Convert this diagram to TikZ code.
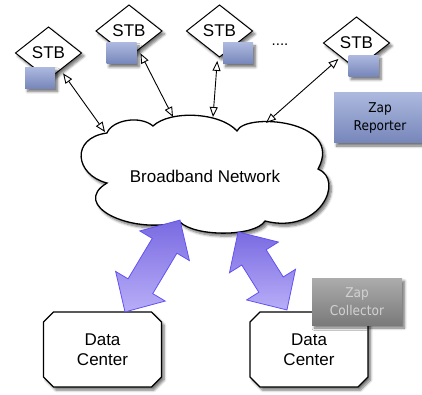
\documentclass[tikz,border=0pt]{standalone}
\usepackage{fontspec}
\setmainfont{Liberation Sans}
\newfontfamily\zapfont[FakeStretch=0.9]{DejaVu Sans}
\usetikzlibrary{shapes.geometric,shapes.arrows,shapes.misc,arrows.meta,shadows.blur,calc}

\definecolor{chipTop}{RGB}{172,184,222}
\definecolor{chipBot}{RGB}{118,134,186}
\definecolor{pipeEdge}{RGB}{98,82,242}
\definecolor{pipeDark}{RGB}{122,106,226}
\definecolor{pipeLight}{RGB}{184,174,247}
\definecolor{grayTop}{RGB}{172,172,172}
\definecolor{grayBot}{RGB}{122,122,122}
\definecolor{grayText}{RGB}{210,210,210}

\tikzset{
  softshadow/.style={blur shadow={shadow xshift=2.5pt, shadow yshift=-3pt,
      shadow blur steps=6, shadow blur radius=2.5pt, shadow opacity=55}},
  stbshape/.style={draw, line width=1pt, fill=white, softshadow},
  stblabel/.style={inner sep=0pt, font=\fontsize{17}{20}\selectfont},
  chip/.style={rectangle, top color=chipTop, bottom color=chipBot,
      minimum width=30pt, minimum height=21pt, inner sep=0pt, softshadow},
  link/.style={line width=0.9pt,
      {Triangle[open, length=10pt, width=8pt]}-{Triangle[open, length=10pt, width=8pt]}},
  pipe/.style={double arrow, draw=pipeEdge, line width=0.8pt,
      top color=pipeDark, bottom color=pipeLight,
      inner xsep=0pt, inner ysep=14pt, double arrow head extend=14.5pt,
      double arrow tip angle=88},
  dcbox/.style={chamfered rectangle, chamfered rectangle xsep=5pt,
      chamfered rectangle ysep=5pt, draw, line width=1.2pt, fill=white,
      minimum width=118pt, minimum height=75pt, align=center,
      font=\fontsize{17}{19.5}\selectfont, softshadow},
  zapbox/.style={rectangle, inner sep=0pt, align=center,
      font=\zapfont\fontsize{13.5}{18}\selectfont, softshadow}
}

\begin{document}
\begin{tikzpicture}[x=1pt, y=-1pt]
\useasboundingbox (0,0) rectangle (422,395);

% the network cloud
\draw[line width=1.3pt, fill=white, softshadow]
  (107,133) .. controls (112,120) and (140,115) .. (153,126)
            .. controls (170,110) and (220,112) .. (237,131)
            .. controls (245,112) and (345,120) .. (318,169)
            .. controls (345,180) and (320,235) .. (265,221)
            .. controls (255,237) and (195,237) .. (180,222)
            .. controls (130,235) and (70,205) .. (107,183)
            .. controls (75,175) and (70,138) .. cycle;
\node[font=\fontsize{17}{20}\selectfont] (net) at (205,176) {Broadband Network};

% attachment points on the cloud outline
\coordinate (c1) at (105,132);
\coordinate (c2) at (173,117);
\coordinate (c3) at (213,117);
\coordinate (c4) at (266,123);

% set-top boxes: diamond outlines, then their labels
\foreach \x/\y in {48.5/53, 129/31, 219.5/31, 356.5/43}
  \path[stbshape] (\x,\y) ++(-33,0) -- ++(33,-26) -- ++(33,26) -- ++(-33,26) -- cycle;
\node[stblabel] (stb1) at (48.5,53) {STB};
\node[stblabel] (stb2) at (129,31) {STB};
\node[stblabel] (stb3) at (219.5,31) {STB};
\node[stblabel] (stb4) at (356.5,43) {STB};
\node[font=\fontsize{15}{18}\selectfont] (dots) at (280,45) {....};

% reporter chips on the boxes
\node[chip] (r1) at (40,78) {};
\node[chip] (r2) at (121.5,53.5) {};
\node[chip] (r3) at (238,53.5) {};
\node[chip] (r4) at (363.5,66) {};

% links between the boxes and the network
\draw[link, shorten <=25pt] (stb1.center) -- (c1);
\draw[link, shorten <=25pt] (stb2.center) -- (c2);
\draw[link, shorten <=30pt] (stb3.center) -- (c3);
\draw[link, shorten <=24pt] (stb4.center) -- (c4);

% data centres
\node[dcbox] (dc1) at (102.5,349.5) {Data\\Center};
\node[dcbox] (dc2) at (309,349.5) {Data\\Center};

% wide two-way pipes
\node[pipe, minimum height=107pt, rotate=59.1] (p1) at (152.5,266) {};
\node[pipe, minimum height=92pt, rotate=122.1] (p2) at (262.5,271) {};

% zap labels
\node[zapbox, top color=chipTop, bottom color=chipBot,
      minimum width=92pt, minimum height=50pt] (zr) at (380,118) {Zap\\Reporter};
\node[zapbox, top color=grayTop, bottom color=grayBot, text=grayText,
      minimum width=90pt, minimum height=47pt] (zc) at (357,301.5) {Zap\\Collector};
\end{tikzpicture}
\end{document}
